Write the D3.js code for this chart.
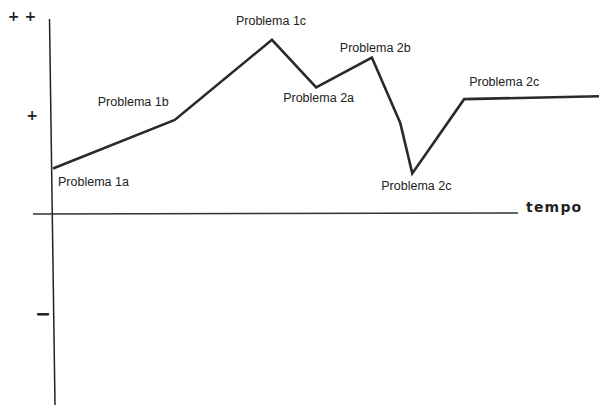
<!DOCTYPE html>
<html><head><meta charset="utf-8">
<script src="https://cdn.jsdelivr.net/npm/d3@7"></script>
<style>body{margin:0;background:#fff}svg{display:block}</style>
</head><body>
<script>
// Data
const times = [0, 22.3, 40.1, 48.2, 58.4, 63.6, 65.8, 75.3, 100];
const levels = [0.46, 0.95, 1.76, 1.28, 1.58, 0.92, 0.41, 1.16, 1.19];
const pointLabels = ["Problema 1a", "Problema 1b", "Problema 1c", "Problema 2a", "Problema 2b", "", "Problema 2c", "Problema 2c", ""];
const yTickValues = [2, 1, -1];
const yTickLabels = ["+ +", "+", "—"];
const xAxisLabel = "tempo";

const W = 599, H = 408;
const svg = d3.select("body").append("svg").attr("width", W).attr("height", H);
const x = d3.scaleLinear().domain([0, 100]).range([53, 599]);
const y = d3.scaleLinear().domain([-2, 2]).range([412, 16]);

// axes
svg.append("line").attr("x1", x(0) - 3.5).attr("x2", x(0) + 2).attr("y1", 19).attr("y2", 405)
  .attr("stroke", "#222").attr("stroke-width", 1.5);
svg.append("line").attr("x1", 33).attr("x2", 518).attr("y1", y(0)).attr("y2", y(0) - 1)
  .attr("stroke", "#333").attr("stroke-width", 1.5);
svg.append("text").attr("x", 526).attr("y", y(0) - 2).text(xAxisLabel)
  .attr("font-family", "DejaVu Sans").attr("font-weight", "bold").attr("font-size", 14)
  .attr("letter-spacing", 1.2).attr("fill", "#222");

// y tick labels
const tickX = [22, 32, 43];
const tickSize = [14, 14, 12];
const tickStroke = [0, 0, 1];
yTickValues.forEach((v, i) => {
  svg.append("text").attr("x", tickX[i]).attr("y", y(v) + 5).attr("text-anchor", "middle")
    .attr("font-family", "DejaVu Sans").attr("font-weight", "bold").attr("font-size", tickSize[i])
    .attr("fill", "#222").attr("stroke", "#222").attr("stroke-width", tickStroke[i])
    .text(yTickLabels[i]);
});

// line
const data = times.map((t, i) => ({t, v: levels[i], label: pointLabels[i]}));
svg.append("path").datum(data)
  .attr("d", d3.line().x(d => x(d.t)).y(d => y(d.v)))
  .attr("fill", "none").attr("stroke", "#2a2a2a").attr("stroke-width", 2.6)
  .attr("stroke-linejoin", "miter");

// labels (offsets)
const offs = [[5, 18], [-77, -14], [-36, -15], [-33, 15], [-32, -6], [0, 0], [-31, 17], [5, -13], [0, 0]];
data.forEach((d, i) => {
  if (!d.label) return;
  svg.append("text").attr("x", x(d.t) + offs[i][0]).attr("y", y(d.v) + offs[i][1])
    .attr("font-family", "Liberation Sans, Arial").attr("font-size", 12.5).attr("fill", "#222")
    .text(d.label);
});
</script>
</body></html>
